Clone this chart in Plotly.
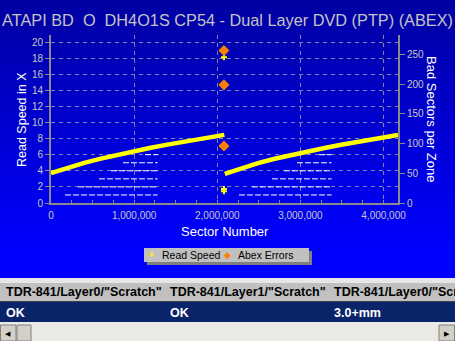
import base64
import plotly.graph_objects as go

# ---------------- data ----------------
layer0_sectors = [0, 200000, 400000, 600000, 800000, 1000000, 1200000, 1400000,
                  1600000, 1800000, 2000000, 2085000]
layer0_speed = [3.70, 4.39, 4.98, 5.51, 5.99, 6.44, 6.86, 7.25, 7.62, 7.98, 8.32, 8.46]
layer1_sectors = [2090000, 2290000, 2490000, 2690000, 2890000, 3090000, 3290000,
                  3490000, 3690000, 3890000, 4090000, 4173824]
layer1_speed = [3.62, 4.35, 4.95, 5.49, 5.97, 6.42, 6.84, 7.23, 7.60, 7.96, 8.30, 8.44]

stray_speed_x = [2080000, 2080000, 2080000]
stray_speed_y = [18.1, 1.45, 1.75]

abex_x = [2080000, 2080000, 2080000]
abex_y = [257, 199, 96]

step_levels = [1, 2, 3, 4, 5, 6]
step_l0_start = [168000, 325000, 577000, 722000, 866000, 1131000]
step_l0_end = 1283000
step_l1_start = [2261000, 2418000, 2658000, 2803000, 2959000, 3224000]
step_l1_end = 3376000

x_tick_vals = [0, 1000000, 2000000, 3000000, 4000000]
x_tick_text = ["0", "1,000,000", "2,000,000", "3,000,000", "4,000,000"]

title_text = "ATAPI BD\u00a0 O\u00a0 DH4O1S CP54 - Dual Layer DVD (PTP) (ABEX)"
x_title = "Sector Number"
y_title = "Read Speed in X"
y2_title = "Bad Sectors per Zone"
legend_names = ["Read Speed", "Abex Errors"]
col_headers = ['TDR-841/Layer0/"Scratch"', 'TDR-841/Layer1/"Scratch"', 'TDR-841/Layer0/"Scratch"']
row_values = ["OK", "OK", "3.0+mm"]

# ---------------- geometry helpers ----------------
W_FIG, H_FIG = 455, 341
PL, PR, PT, PB = 51, 398, 35, 203
PW, PH = PR - PL, PB - PT


def fx(px):
    return (px - PL) / PW


def fy(py):
    return (PB - py) / PH


AX = "#8a8a8a"
GRID = "rgb(130,130,175)"
TICKC = "#c8c8c8"
SANS = "Liberation Sans, Arial, sans-serif"
TICKFONT = dict(size=10, color=TICKC, family=SANS)

fig = go.Figure()

# step lines (white dashed)
for starts, end in ((step_l0_start, step_l0_end), (step_l1_start, step_l1_end)):
    xs, ys = [], []
    for lv, s in zip(step_levels, starts):
        xs += [s, end, None]
        ys += [lv, lv, None]
    fig.add_trace(go.Scatter(x=xs, y=ys, mode="lines", showlegend=False, hoverinfo="skip",
                             line=dict(color="white", width=1, dash="6px,2px")))

# read speed lines
for xs, ys in ((layer0_sectors, layer0_speed), (layer1_sectors, layer1_speed)):
    fig.add_trace(go.Scatter(x=xs, y=ys, mode="lines", name=legend_names[0], showlegend=False,
                             line=dict(color="#ffff00", width=4.5)))

fig.add_trace(go.Scatter(x=stray_speed_x, y=stray_speed_y, mode="markers", name=legend_names[0],
                         showlegend=False,
                         marker=dict(symbol="cross", size=5, color="#ffff00")))

fig.add_trace(go.Scatter(x=abex_x, y=abex_y, mode="markers", name=legend_names[1], yaxis="y2",
                         showlegend=False,
                         marker=dict(symbol="diamond", size=8.5, color="#ff8000")))

# ---------------- background gradient ----------------
svg = ('<svg xmlns="http://www.w3.org/2000/svg" width="455" height="278" preserveAspectRatio="none">'
       '<defs><linearGradient id="g" x1="0" y1="0" x2="0" y2="1">'
       '<stop offset="0" stop-color="#0000a2"/><stop offset="0.9" stop-color="#0000ff"/>'
       '<stop offset="1" stop-color="#0000ff"/></linearGradient></defs>'
       '<rect width="455" height="278" fill="url(#g)"/></svg>')
src = "data:image/svg+xml;base64," + base64.b64encode(svg.encode()).decode()

images = [dict(source=src, xref="paper", yref="paper", x=fx(0), y=fy(0),
               sizex=W_FIG / PW, sizey=278 / PH, xanchor="left", yanchor="top",
               sizing="stretch", layer="below")]

shapes = []
annotations = []


def rect(x0, y0, x1, y1, fill, line=None, lw=0):
    shapes.append(dict(type="rect", xref="paper", yref="paper",
                       x0=fx(x0), y0=fy(y0), x1=fx(x1), y1=fy(y1),
                       fillcolor=fill, line=dict(color=line or fill, width=lw), layer="above"))


def text(px, py, s, size=11, color="black", xanchor="left", bold=False, family=SANS, angle=0):
    if bold:
        s = "<b>" + s + "</b>"
    annotations.append(dict(x=fx(px), y=fy(py), xref="paper", yref="paper", text=s,
                            showarrow=False, xanchor=xanchor, yanchor="middle",
                            textangle=angle,
                            font=dict(size=size, color=color, family=family)))


# axis titles
text(224.5, 231.5, x_title, size=13, color="white", xanchor="center")
text(22, 120, y_title, size=12.5, color="white", xanchor="center", angle=-90)
text(432, 119, y2_title, size=13, color="white", xanchor="center", angle=90)

# legend (manual)
rect(147, 251, 312, 265, "#808080")
rect(144, 248, 309, 262, "#c0c0c0")
text(151.5, 254.5, "+", size=9, color="#ffff00", xanchor="center", bold=True)
text(227.5, 255, "\u25c6", size=9, color="#ff8000", xanchor="center")
text(160, 255, legend_names[0], size=10.5)
text(236, 255, legend_names[1], size=10.5)

# bottom list view
rect(0, 278, 455, 283, "#e6e6e6")
rect(0, 283, 455, 301, "#c0c0c0")
rect(0, 301, 455, 302, "#404040")
rect(0, 302, 455, 322, "#0a246a")
rect(0, 322, 455, 341, "#ebe9e5")
rect(0.5, 325, 16, 341, "#d4d0c8", "#808080", 1)
rect(17, 325, 31, 341, "#d4d0c8", "#808080", 1)
rect(439, 325, 454.5, 341, "#d4d0c8", "#808080", 1)
text(7.5, 333, "\u25c0", size=7, xanchor="center")
text(447, 333, "\u25b6", size=7, xanchor="center")
col_x = [4, 168, 332]
for cx, h, v in zip(col_x, col_headers, row_values):
    text(cx, 292, h, size=12.5, bold=True)
    text(cx, 313, v, size=12.5, color="white", bold=True)

fig.update_layout(
    width=W_FIG, height=H_FIG,
    margin=dict(l=PL, r=W_FIG - PR, t=PT, b=H_FIG - PB, pad=0),
    paper_bgcolor="#0000ff", plot_bgcolor="rgba(0,0,0,0)",
    showlegend=False,
    images=images, shapes=shapes, annotations=annotations,
    title=dict(text=title_text, x=0.5, xanchor="center", y=1 - 20 / H_FIG, yanchor="middle",
               font=dict(size=16.3, color="#c4c4c4", family=SANS)),
    xaxis=dict(range=[0, 4173824], tickvals=x_tick_vals, ticktext=x_tick_text,
               showgrid=True, gridcolor=GRID, griddash="4px,4px", gridwidth=1,
               showline=True, linecolor=AX, linewidth=2, zeroline=False,
               ticks="inside", ticklen=3, tickcolor=AX, tickwidth=1,
               minor=dict(dtick=250000, tick0=0, ticks="inside", ticklen=3, tickcolor=AX,
                          showgrid=False),
               ticklabelstandoff=2,
               tickfont=TICKFONT),
    yaxis=dict(range=[0, 20.87], tick0=0, dtick=2,
               showgrid=True, gridcolor=GRID, griddash="4px,4px", gridwidth=1,
               showline=True, linecolor=AX, linewidth=2, zeroline=False,
               ticks="outside", ticklen=4, tickcolor=AX, tickwidth=1,
               tickfont=TICKFONT),
    yaxis2=dict(range=[0, 283], tick0=0, dtick=50, overlaying="y", side="right",
                showgrid=False, showline=True, linecolor=AX, linewidth=2, zeroline=False,
                ticks="outside", ticklen=5, tickcolor=AX, tickwidth=1,
                tickfont=TICKFONT),
)

fig.write_html("out.html", config={"displayModeBar": False})
